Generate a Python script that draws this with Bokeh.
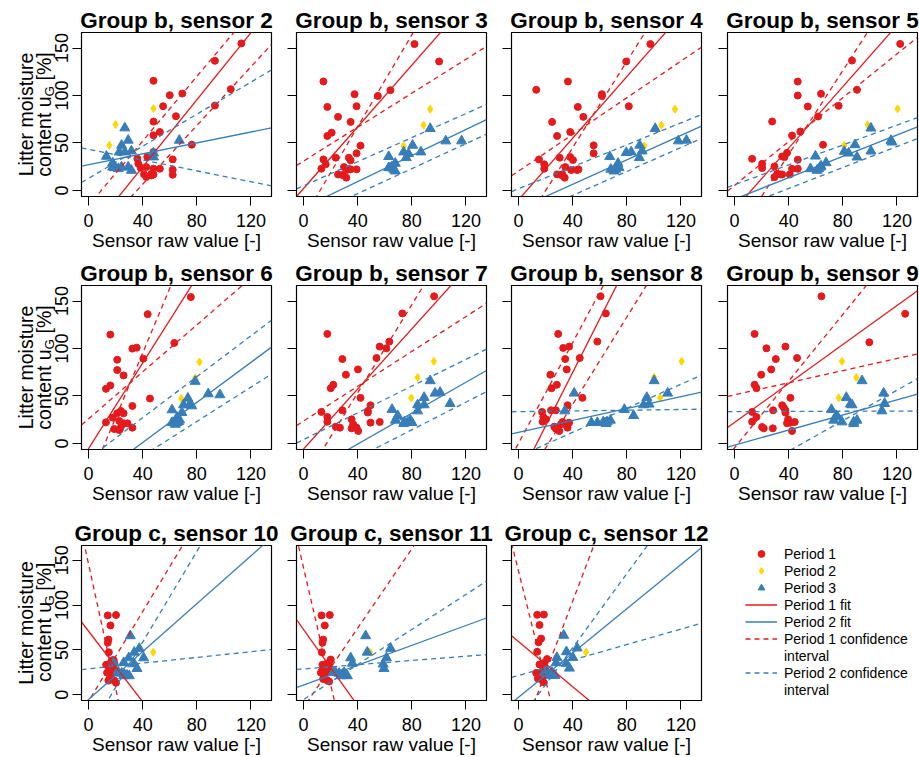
import math
import numpy as np
from bokeh.plotting import figure
from bokeh.layouts import row, column
from bokeh.models import Legend, LegendItem, FixedTicker, Range1d
from bokeh.core.properties import value
from bokeh.embed import file_html
from bokeh.resources import INLINE

# ---------------- data ----------------
x_ticks = [0, 40, 80, 120]
y_ticks = [0, 50, 100, 150]
x_lim = [0, 130]
y_lim = [0, 160]

s2_p1_x = [112.9, 93.4, 105.1, 93.4, 69.3, 60.0, 55.1, 48.0, 48.0, 64.6, 48.0, 52.7, 76.3, 48.0, 36.1, 36.8, 38.5, 43.4, 42.7, 41.0, 42.7, 46.6, 48.0, 48.0, 52.7, 62.2, 62.2, 62.2, 46.6]
s2_p1_y = [154.9, 136.6, 106.7, 89.4, 102.1, 100.4, 88.7, 115.5, 72.5, 78.2, 58.1, 61.6, 48.2, 40.5, 33.5, 28.2, 23.9, 35.2, 24.6, 16.9, 14.1, 17.6, 22.9, 16.9, 22.9, 32.7, 21.8, 16.5, 15.8]
s2_p2_x = [20.0, 15.4, 48.0]
s2_p2_y = [69.4, 47.5, 86.3]
s2_p3_x = [26.8, 13.2, 17.8, 17.8, 22.7, 24.4, 29.3, 26.8, 31.7, 22.0, 24.4, 29.3, 31.7, 48.0, 48.0, 67.1, 19.0]
s2_p3_y = [65.8, 35.9, 28.9, 24.6, 40.5, 47.5, 52.8, 40.5, 41.5, 22.9, 24.6, 24.6, 21.1, 35.2, 39.4, 52.8, 23.9]
s2_fit1 = [-45.9, 1.767]
s2_ci1 = [[-16.0, 1.70], [-55.4, 1.547]]
s2_fit2 = [27.0, 0.288]
s2_ci2 = [[12.7, 0.845], [43.4, -0.285]]

s3_p1_x = [82.0, 100.2, 14.7, 37.7, 54.9, 64.2, 17.6, 39.2, 25.5, 34.8, 17.6, 20.8, 42.1, 39.2, 14.7, 23.7, 33.5, 34.8, 16.4, 13.2, 29.9, 31.8, 34.8, 39.2, 25.5, 28.7, 31.6]
s3_p1_y = [154.2, 135.9, 114.8, 101.4, 99.6, 105.6, 88.0, 88.7, 77.5, 72.2, 57.4, 60.9, 47.2, 39.1, 32.7, 34.5, 34.5, 31.7, 27.5, 22.9, 24.6, 21.5, 22.2, 22.2, 16.9, 16.2, 13.4]
s3_p2_x = [93.6, 88.7, 74.0]
s3_p2_y = [85.6, 68.7, 46.8]
s3_p3_x = [93.6, 105.1, 116.8, 80.6, 86.7, 74.0, 77.6, 62.9, 75.9, 67.8, 64.2, 66.6, 62.9, 67.8, 65.4]
s3_p3_y = [65.1, 52.1, 52.1, 47.5, 40.5, 40.5, 38.7, 35.6, 34.5, 28.5, 23.9, 22.2, 23.9, 20.4, 25.0]
s3_fit1 = [2.0, 1.624]
s3_ci1 = [[-29.7, 2.42], [30.9, 0.894]]
s3_fit2 = [-18.1, 0.686]
s3_ci2 = [[4.9, 0.634], [-29.7, 0.658]]

s4_p1_x = [97.4, 79.6, 36.5, 13.1, 61.6, 61.6, 43.8, 81.5, 47.9, 24.8, 38.2, 28.5, 55.5, 55.5, 15.1, 30.4, 38.2, 40.2, 19.0, 19.0, 34.6, 38.9, 43.3, 44.3, 28.5, 32.4, 34.1, 31.6]
s4_p1_y = [154.2, 135.9, 114.8, 106.0, 101.4, 99.6, 88.0, 88.7, 77.5, 72.2, 61.6, 57.4, 47.5, 39.1, 32.7, 34.5, 35.2, 32.0, 27.5, 22.9, 24.6, 21.5, 21.5, 22.2, 16.9, 16.9, 13.4, 16.2]
s4_p2_x = [115.6, 105.6, 93.0]
s4_p2_y = [85.6, 68.7, 46.8]
s4_p3_x = [101.0, 118.1, 124.1, 89.6, 91.3, 79.6, 83.3, 67.4, 89.3, 73.5, 68.2, 71.8, 74.3, 70.6, 73.0]
s4_p3_y = [65.1, 52.1, 52.8, 47.5, 41.5, 39.8, 40.5, 35.6, 34.5, 28.5, 22.2, 22.2, 23.9, 20.4, 25.7]
s4_fit1 = [-9.9, 1.622]
s4_ci1 = [[-45.7, 2.27], [20.4, 0.965]]
s4_fit2 = [-19.3, 0.644]
s4_ci2 = [[1.8, 0.578], [-30.5, 0.631]]

s5_p1_x = [122.4, 86.8, 46.7, 46.7, 63.9, 54.1, 76.9, 61.7, 90.5, 27.8, 48.7, 42.5, 65.4, 38.8, 13.0, 35.2, 36.9, 46.7, 20.4, 20.4, 29.5, 42.5, 46.7, 31.5, 34.0, 35.2, 29.5, 40.8]
s5_p1_y = [154.4, 136.8, 114.7, 100.0, 101.8, 88.4, 89.1, 77.9, 106.0, 72.6, 62.1, 57.9, 48.1, 39.6, 33.3, 35.8, 35.1, 32.3, 28.1, 23.5, 25.3, 22.8, 22.8, 17.5, 16.8, 16.8, 14.0, 16.8]
s5_p2_x = [120.5, 98.4, 81.1]
s5_p2_y = [86.0, 69.1, 47.4]
s5_p3_x = [100.8, 115.6, 116.3, 89.0, 100.8, 81.1, 84.3, 59.8, 90.5, 67.6, 56.1, 62.2, 63.4, 61.0, 63.9]
s5_p3_y = [65.6, 52.6, 50.9, 48.1, 41.4, 41.1, 39.3, 36.1, 35.1, 29.1, 22.8, 22.8, 24.6, 21.1, 25.6]
s5_fit1 = [-20.1, 1.617]
s5_ci1 = [[-50.5, 2.21], [5.3, 1.154]]
s5_fit2 = [-9.2, 0.563]
s5_ci2 = [[6.0, 0.523], [-20.0, 0.552]]

s6_p1_x = [75.6, 43.7, 16.1, 63.4, 32.4, 35.6, 40.5, 21.2, 21.2, 25.9, 16.1, 12.9, 45.4, 32.4, 12.9, 17.8, 21.2, 23.9, 25.9, 19.0, 22.7, 23.4, 24.6, 25.9, 28.8, 32.4, 22.7]
s6_p1_y = [154.2, 136.2, 114.7, 105.9, 99.9, 100.9, 89.3, 88.2, 77.3, 71.7, 61.1, 57.5, 47.3, 39.5, 22.2, 27.2, 31.8, 34.2, 31.8, 15.2, 14.1, 15.9, 19.4, 21.2, 21.2, 16.6, 23.7]
s6_p2_x = [82.0, 78.8, 68.5]
s6_p2_y = [85.8, 68.8, 47.3]
s6_p3_x = [78.8, 88.5, 97.1, 73.4, 70.2, 74.6, 76.3, 61.7, 69.0, 65.4, 61.7, 65.4, 67.3, 64.1, 66.6]
s6_p3_y = [65.3, 52.2, 51.2, 47.6, 40.6, 40.6, 39.5, 35.3, 32.5, 27.5, 21.9, 21.9, 24.7, 20.1, 23.0]
s6_fit1 = [-5.5, 2.256]
s6_ci1 = [[-41.2, 3.41], [25.9, 1.237]]
s6_fit2 = [-41.3, 1.056]
s6_ci2 = [[-16.0, 1.078], [-49.4, 0.906]]

s7_p1_x = [96.5, 73.0, 17.6, 56.3, 61.2, 63.4, 53.9, 28.7, 40.2, 31.3, 20.1, 22.0, 42.1, 49.5, 13.2, 17.6, 28.7, 47.5, 47.5, 17.6, 49.5, 56.3, 35.5, 36.7, 39.2, 40.4, 23.8, 26.9, 35.5]
s7_p1_y = [155.0, 137.0, 115.4, 102.0, 100.2, 107.3, 90.0, 88.9, 78.0, 72.4, 58.2, 61.8, 48.0, 40.2, 33.2, 27.9, 34.9, 34.2, 32.5, 22.9, 21.9, 22.6, 25.4, 20.1, 16.6, 13.1, 17.6, 16.6, 15.9]
s7_p2_x = [96.3, 84.3, 79.6]
s7_p2_y = [86.5, 69.5, 48.0]
s7_p3_x = [93.6, 97.2, 108.3, 89.1, 84.3, 89.1, 84.3, 65.4, 69.6, 67.9, 74.5, 77.1, 78.9, 74.0, 80.1, 100.9]
s7_p3_y = [66.0, 52.9, 42.0, 48.4, 40.6, 40.6, 34.2, 35.7, 29.3, 24.4, 22.6, 22.6, 24.4, 20.8, 21.9, 53.7]
s7_fit1 = [-5.9, 1.582]
s7_ci1 = [[-39.5, 2.32], [23.5, 0.918]]
s7_fit2 = [-33.3, 0.815]
s7_ci2 = [[4.0, 0.705], [-44.0, 0.729]]

s8_p1_x = [60.6, 64.5, 29.3, 58.2, 33.0, 37.4, 34.5, 45.2, 35.6, 23.5, 24.4, 28.3, 47.2, 36.2, 17.4, 24.0, 27.6, 18.3, 17.8, 32.5, 37.4, 31.3, 36.2, 30.1, 26.4, 28.8, 20.3, 27.6, 33.7]
s8_p1_y = [155.0, 137.0, 115.4, 107.3, 100.6, 102.0, 88.9, 90.0, 78.0, 72.4, 58.2, 61.8, 48.0, 40.2, 33.2, 34.9, 34.9, 27.9, 22.9, 22.6, 21.9, 20.1, 16.6, 13.1, 17.6, 16.6, 25.4, 15.5, 20.8]
s8_p2_x = [120.5, 100.2, 104.6]
s8_p2_y = [86.5, 69.5, 48.0]
s8_p3_x = [100.2, 110.2, 41.1, 94.8, 96.5, 92.4, 78.2, 34.2, 85.0, 53.8, 58.2, 62.6, 65.5, 67.9, 64.7]
s8_p3_y = [66.0, 52.9, 52.9, 48.4, 41.3, 40.6, 35.7, 34.2, 29.3, 21.9, 21.9, 22.6, 22.6, 24.4, 20.8]
s8_fit1 = [-38.0, 2.82]
s8_ci1 = [[0.2, 2.652], [-50.9, 2.30]]
s8_fit2 = [11.7, 0.313]
s8_ci2 = [[33.5, 0.019], [-13.7, 0.634]]

s9_p1_x = [64.2, 126.1, 99.6, 14.8, 23.6, 37.6, 46.2, 30.5, 27.1, 19.7, 14.8, 16.2, 41.3, 35.2, 13.0, 16.2, 28.5, 37.6, 37.6, 13.0, 41.3, 44.5, 39.6, 20.4, 21.6, 28.3, 42.5, 38.8, 36.4]
s9_p1_y = [155.0, 136.6, 106.6, 115.4, 100.2, 102.0, 90.0, 88.9, 78.0, 72.4, 61.8, 58.2, 48.0, 40.2, 33.2, 27.9, 34.9, 34.9, 32.5, 22.9, 21.9, 22.6, 25.4, 17.3, 15.9, 15.9, 13.1, 21.2, 37.8]
s9_p2_x = [79.4, 90.0, 77.0]
s9_p2_y = [86.5, 69.5, 48.0]
s9_p3_x = [94.2, 110.2, 110.9, 82.6, 85.6, 86.8, 108.9, 71.6, 75.2, 73.3, 79.4, 88.0, 90.5, 88.0, 76.2]
s9_p3_y = [66.0, 52.9, 42.0, 48.4, 41.3, 40.6, 34.2, 35.7, 29.3, 24.4, 22.6, 22.6, 24.4, 20.8, 27.9]
s9_fit1 = [22.1, 1.026]
s9_ci1 = [[-4.6, 1.756], [51.2, 0.319]]
s9_fit2 = [-1.8, 0.398]
s9_ci2 = [[33.5, 0.005], [-40.1, 0.801]]

s10_p1_x = [14.2, 20.3, 16.2, 14.7, 14.2, 15.0, 17.9, 19.1, 13.0, 16.7, 15.4, 13.7, 19.1, 15.4, 19.1, 20.3, 17.9, 16.7, 14.7, 18.6, 16.7]
s10_p1_y = [88.5, 88.9, 77.3, 61.5, 58.0, 47.4, 38.6, 35.1, 33.4, 31.6, 28.8, 24.6, 28.1, 17.6, 15.8, 13.3, 24.6, 21.1, 15.8, 38.6, 36.9]
s10_p2_x = [47.8]
s10_p2_y = [47.4]
s10_p3_x = [30.9, 37.5, 33.8, 40.7, 29.7, 18.6, 26.0, 33.8, 35.8, 21.1, 24.5, 26.5, 28.4, 22.0, 30.1, 26.0]
s10_p3_y = [65.7, 51.6, 47.4, 41.1, 41.1, 35.8, 35.8, 34.4, 29.2, 24.6, 23.9, 22.8, 21.8, 25.3, 21.1, 21.1]
s10_fit1 = [70.9, -1.968]
s10_ci1 = [[145.8, -6.91], [-7.3, 2.5]]
s10_fit2 = [-5.3, 1.335]
s10_ci2 = [[-42.4, 2.527], [28.9, 0.159]]

s11_p1_x = [13.3, 19.4, 15.7, 14.5, 14.0, 13.5, 20.1, 17.7, 14.0, 16.4, 12.8, 17.7, 14.5, 18.9, 17.7, 16.4, 14.9, 13.7, 18.9]
s11_p1_y = [88.5, 88.9, 77.3, 61.5, 58.0, 47.4, 39.3, 35.1, 33.4, 31.6, 24.6, 28.1, 17.6, 14.8, 15.8, 24.6, 21.8, 27.0, 33.4]
s11_p2_x = [49.1]
s11_p2_y = [47.4]
s11_p3_x = [45.9, 64.3, 47.1, 34.8, 61.3, 36.1, 58.9, 59.4, 23.8, 26.3, 28.7, 31.2, 22.1, 32.4, 27.5, 30.0]
s11_p3_y = [65.7, 51.6, 47.4, 41.1, 41.1, 35.1, 34.1, 29.2, 24.6, 23.9, 22.8, 21.8, 25.3, 21.1, 21.1, 24.6]
s11_fit1 = [72.8, -2.122]
s11_ci1 = [[141.6, -6.5], [-14.2, 2.21]]
s11_fit2 = [10.8, 0.553]
s11_ci2 = [[-5.3, 0.976], [28.8, 0.118]]

s12_p1_x = [13.8, 18.7, 15.5, 16.7, 14.8, 13.8, 21.1, 19.2, 15.5, 18.0, 13.0, 18.7, 14.3, 18.7, 17.5, 16.2, 14.8, 16.7]
s12_p1_y = [89.1, 89.4, 77.8, 62.7, 58.5, 47.9, 39.8, 35.6, 33.8, 32.0, 24.3, 28.5, 18.0, 13.7, 16.2, 25.0, 22.2, 33.8]
s12_p2_x = [49.9]
s12_p2_y = [47.5]
s12_p3_x = [33.4, 43.3, 35.4, 40.1, 28.3, 27.8, 35.2, 37.6, 19.2, 21.6, 23.6, 26.1, 20.4, 27.0, 22.6, 24.6]
s12_p3_y = [66.2, 52.1, 47.9, 41.5, 41.5, 35.6, 34.9, 29.6, 25.0, 24.3, 23.2, 22.2, 25.7, 21.5, 21.5, 25.0]
s12_fit1 = [59.3, -1.258]
s12_ci1 = [[137.7, -6.07], [-55.0, 3.98]]
s12_fit2 = [-2.8, 1.232]
s12_ci2 = [[-29.9, 2.06], [21.5, 0.431]]

panel_sensors = [[2, 3, 4, 5], [6, 7, 8, 9], [10, 11, 12]]
panel_groups = {2: "b", 3: "b", 4: "b", 5: "b", 6: "b", 7: "b", 8: "b", 9: "b", 10: "c", 11: "c", 12: "c"}
x_label = "Sensor raw value [-]"
y_label_line1 = "Litter moisture"
y_label_line2 = ["content u", "G", "[%]"]
legend_labels = ["Period 1", "Period 2", "Period 3", "Period 1 fit", "Period 2 fit",
                 "Period 1 confidence", "interval", "Period 2 confidence", "interval"]

SENSORS = {}
for sid in panel_groups:
    g = globals()
    SENSORS[sid] = dict(
        p1=(g[f"s{sid}_p1_x"], g[f"s{sid}_p1_y"]),
        p2=(g[f"s{sid}_p2_x"], g[f"s{sid}_p2_y"]),
        p3=(g[f"s{sid}_p3_x"], g[f"s{sid}_p3_y"]),
        fit1=g[f"s{sid}_fit1"], ci1=g[f"s{sid}_ci1"],
        fit2=g[f"s{sid}_fit2"], ci2=g[f"s{sid}_ci2"],
    )

# ---------------- style / layout ----------------
RED = "#e41a1c"
BLUE = "#377eb8"
YEL = "#ffd700"
FONT = "Liberation Sans"

ext_x = 0.04 * (x_lim[1] - x_lim[0])
ext_y = 0.04 * (y_lim[1] - y_lim[0])
XR = (x_lim[0] - ext_x, x_lim[1] + ext_x)
YR = (y_lim[0] - ext_y, y_lim[1] + ext_y)

YLAB_W = 72
COL_W = [211, 218, 212, 206]
COL_BL = [9, 13, 10, 14]
COL_BR = [12, 15, 12, 2]
ROW_H = [253, 254, 250]
FRAME_H = [164, 164, 163]
TOP = 32
MID = 0.3465   # distance (em) from the alphabetic baseline to the middle of the text box


def style_axes(p):
    p.xaxis.ticker = FixedTicker(ticks=x_ticks)
    p.yaxis.ticker = FixedTicker(ticks=y_ticks)
    for ax in p.axis:
        ax.axis_line_color = "black"
        ax.axis_line_width = 1
        ax.major_tick_line_color = "black"
        ax.major_tick_line_width = 1
        ax.minor_tick_line_color = None
        ax.major_tick_out = 9
        ax.major_tick_in = 0
        ax.major_label_text_font = FONT
        ax.major_label_text_font_size = "18px"
        ax.major_label_text_color = "black"
    p.xaxis.axis_label = x_label
    p.xaxis.axis_label_text_font = FONT
    p.xaxis.axis_label_text_font_size = "19px"
    p.xaxis.axis_label_text_font_style = "normal"
    p.xaxis.axis_label_text_color = "black"
    p.xaxis.axis_label_standoff = 0
    p.xaxis.major_label_standoff = 8
    p.yaxis.major_label_overrides = {t: "" for t in y_ticks}
    p.yaxis.major_label_standoff = 0


def make_ylab(r, yr):
    """Left strip of the first column: y tick labels (through the shared y scale) and axis title."""
    h = ROW_H[r]
    fh = FRAME_H[r]
    p = figure(width=YLAB_W, height=h, x_range=Range1d(0, YLAB_W), y_range=yr, title=None,
               toolbar_location=None, output_backend="svg", x_axis_type=None, y_axis_type=None,
               min_border_left=0, min_border_right=0, min_border_top=TOP,
               min_border_bottom=h - TOP - fh)
    p.extra_y_ranges = {"px": Range1d(0, fh)}
    p.outline_line_color = None
    p.background_fill_color = "white"
    p.border_fill_color = "white"
    tfs = 18
    # tick labels, parallel to the axis (baseline at x = 67.5 px)
    p.text(x=[67.5 - MID * tfs] * len(y_ticks), y=y_ticks, text=[str(t) for t in y_ticks],
           angle=math.pi / 2, text_align="center", text_baseline="middle", text_font=value(FONT),
           text_font_size=f"{tfs}px", text_color="black")
    fs = 19.5
    sub = 13.5
    w_main = 4.114 * fs      # width of "content u"
    w_sub = 0.778 * sub      # width of "G"
    w_space = 0.278 * fs
    w_tail = 1.445 * fs      # width of "[%]"
    total = w_main + w_sub + w_space + w_tail
    yc = fh / 2
    p.text(x=[32.5 - MID * fs], y=[yc], text=[y_label_line1], angle=math.pi / 2, y_range_name="px",
           text_align="center", text_baseline="middle", text_font=value(FONT),
           text_font_size=f"{fs}px", text_color="black")
    y0 = yc - total / 2
    p.text(x=[50.0 - MID * fs, 53.5 - MID * sub, 50.0 - MID * fs],
           y=[y0, y0 + w_main, y0 + w_main + w_sub + w_space], text=y_label_line2,
           angle=math.pi / 2, y_range_name="px", text_align="left", text_baseline="middle",
           text_font=value(FONT), text_font_size=[f"{fs}px", f"{sub}px", f"{fs}px"],
           text_color="black")
    return p


def make_panel(sid, r, c, yr):
    h = ROW_H[r]
    p = figure(width=COL_W[c], height=h, x_range=Range1d(*XR), y_range=yr,
               toolbar_location=None, output_backend="svg",
               min_border_left=COL_BL[c], min_border_right=COL_BR[c],
               min_border_top=TOP, min_border_bottom=h - TOP - FRAME_H[r])
    p.grid.visible = False
    p.background_fill_color = "white"
    p.border_fill_color = "white"
    p.outline_line_color = "black"
    p.outline_line_width = 1.2
    p.title.text = f"Group {panel_groups[sid]}, sensor {sid}"
    p.title.text_font = FONT
    p.title.text_font_size = "22.5px"
    p.title.text_font_style = "bold"
    p.title.text_color = "black"
    p.title.align = "center"
    p.title.standoff = 0
    style_axes(p)
    d = SENSORS[sid]
    p.scatter(d["p1"][0], d["p1"][1], marker="circle", size=7, fill_color=RED, line_color=RED)
    p.scatter(d["p2"][0], d["p2"][1], marker="diamond", size=8, fill_color=YEL, line_color=YEL)
    p.scatter(d["p3"][0], d["p3"][1], marker="triangle", size=10, fill_color=BLUE, line_color=BLUE)
    xs = np.array(XR)
    a, b = d["fit1"]
    p.line(xs, a + b * xs, line_color=RED, line_width=1.3)
    for a, b in d["ci1"]:
        p.line(xs, a + b * xs, line_color=RED, line_width=1.3, line_dash="5 4")
    a, b = d["fit2"]
    p.line(xs, a + b * xs, line_color=BLUE, line_width=1.3)
    for a, b in d["ci2"]:
        p.line(xs, a + b * xs, line_color=BLUE, line_width=1.3, line_dash="5 4")
    return p


def make_legend_fig():
    h = ROW_H[2]
    p = figure(width=COL_W[3], height=h, x_range=Range1d(0, 1), y_range=Range1d(0, 1), title=None,
               toolbar_location=None, output_backend="svg", x_axis_type=None, y_axis_type=None,
               min_border_left=32, min_border_top=38, min_border_right=0, min_border_bottom=0)
    p.outline_line_color = None
    p.background_fill_color = "white"
    p.border_fill_color = "white"
    nan = [np.nan]
    r_p1 = p.scatter(nan, nan, marker="circle", size=7, fill_color=RED, line_color=RED)
    r_p2 = p.scatter(nan, nan, marker="diamond", size=7, fill_color=YEL, line_color=YEL)
    r_p3 = p.scatter(nan, nan, marker="triangle", size=7, fill_color=BLUE, line_color=BLUE)
    r_f1 = p.line(nan, nan, line_color=RED, line_width=1.3)
    r_f2 = p.line(nan, nan, line_color=BLUE, line_width=1.3)
    r_c1 = p.line(nan, nan, line_color=RED, line_width=1.3, line_dash="5 4")
    r_c2 = p.line(nan, nan, line_color=BLUE, line_width=1.3, line_dash="5 4")
    r_blank = p.scatter(nan, nan, size=1, fill_alpha=0, line_alpha=0)
    rends = [r_p1, r_p2, r_p3, r_f1, r_f2, r_c1, r_blank, r_c2, r_blank]
    items = [LegendItem(label=lab, renderers=[rr]) for lab, rr in zip(legend_labels, rends)]
    leg = Legend(items=items, location="top_left", orientation="vertical", padding=0, margin=0,
                 spacing=0, glyph_width=32, glyph_height=17, label_height=17, label_standoff=7,
                 label_text_font=FONT, label_text_font_size="14px", label_text_color="black",
                 border_line_color=None, background_fill_alpha=0)
    p.add_layout(leg)
    return p


rows = []
for r, sids in enumerate(panel_sensors):
    figs = []
    for c, sid in enumerate(sids):
        yr = Range1d(*YR)
        if c == 0:
            figs.append(make_ylab(r, yr))
        figs.append(make_panel(sid, r, c, yr))
    if len(sids) < 4:
        figs.append(make_legend_fig())
    rows.append(row(*figs))

layout = column(*rows)
open("out.html", "w").write(file_html(layout, INLINE))
